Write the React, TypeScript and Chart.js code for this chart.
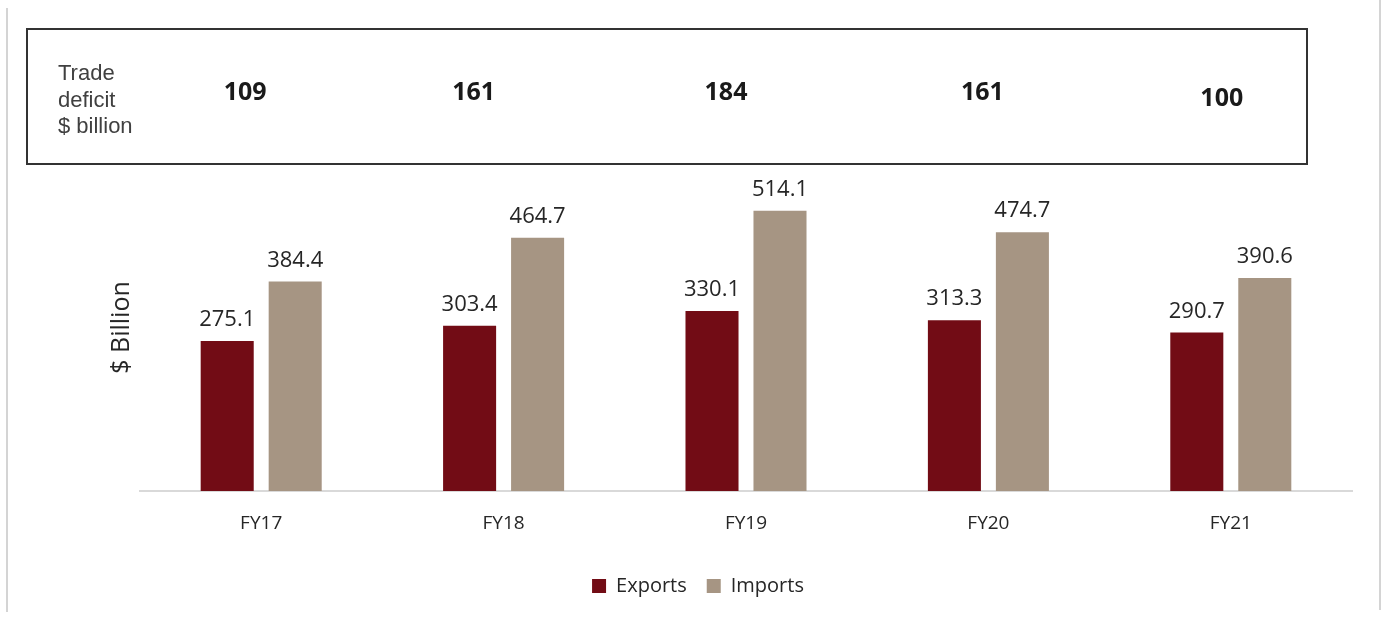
import React, { useEffect, useRef } from "react";
import { Chart, registerables } from "chart.js";

Chart.register(...registerables);

const categories = ["FY17", "FY18", "FY19", "FY20", "FY21"];
const exportsValues = [275.1, 303.4, 330.1, 313.3, 290.7];
const importsValues = [384.4, 464.7, 514.1, 474.7, 390.6];
const tradeDeficit = [109, 161, 184, 161, 100];
const deficitLabelLines = ["Trade", "deficit", "$ billion"];

const EXPORT_COLOR = "#720c15";
const IMPORT_COLOR = "#a69583";

// layout constants for the summary box (not data)
const DEFICIT_X_OFFSETS = [-16, -30, -20, -6, -9];
const DEFICIT_Y = [93, 93, 93, 93, 99];
const LEGEND_SHIFT = 22;

const overlayPlugin = {
  id: "overlay",
  afterLayout(chart: any) {
    if (chart.legend) {
      chart.legend.left += LEGEND_SHIFT;
      chart.legend.right += LEGEND_SHIFT;
    }
  },
  beforeDraw(chart: any) {
    const ctx = chart.ctx;
    ctx.save();
    ctx.fillStyle = "#ffffff";
    ctx.fillRect(0, 0, chart.width, chart.height);
    ctx.strokeStyle = "#d4d4d4";
    ctx.lineWidth = 2;
    ctx.beginPath();
    ctx.moveTo(7, 8);
    ctx.lineTo(7, 612);
    ctx.moveTo(1380, 0);
    ctx.lineTo(1380, 610);
    ctx.stroke();
    ctx.restore();
  },
  afterDatasetsDraw(chart: any) {
    const ctx = chart.ctx;
    ctx.save();
    ctx.font = "22px 'Open Sans'";
    ctx.fillStyle = "#262626";
    ctx.textAlign = "center";
    ctx.textBaseline = "alphabetic";
    chart.data.datasets.forEach((ds: any, di: number) => {
      const meta = chart.getDatasetMeta(di);
      meta.data.forEach((el: any, i: number) => {
        ctx.fillText(Number(ds.data[i]).toFixed(1), el.x, el.y - 15);
      });
    });
    ctx.restore();
  },
  afterDraw(chart: any) {
    const ctx = chart.ctx;
    const xScale = chart.scales.x;
    ctx.save();
    ctx.strokeStyle = "#333333";
    ctx.lineWidth = 2;
    ctx.strokeRect(27, 29, 1280, 135);
    ctx.fillStyle = "#404040";
    ctx.font = "22px 'Liberation Sans'";
    ctx.textAlign = "left";
    ctx.textBaseline = "middle";
    deficitLabelLines.forEach((t, i) => ctx.fillText(t, 58, 74 + i * 26.5));
    ctx.fillStyle = "#1a1a1a";
    ctx.font = "bold 25px 'Open Sans'";
    ctx.textAlign = "center";
    tradeDeficit.forEach((v, i) => {
      const x = xScale.getPixelForValue(i) + DEFICIT_X_OFFSETS[i];
      ctx.save();
      ctx.beginPath();
      ctx.rect(x - 40, 60, 80, 48);
      ctx.clip();
      ctx.fillText(String(v), x, DEFICIT_Y[i]);
      ctx.restore();
    });
    ctx.restore();
  },
};

export default function App() {
  const ref = useRef<HTMLCanvasElement>(null);
  useEffect(() => {
    if (!ref.current) return;
    Chart.defaults.font.family = "'Open Sans'";
    Chart.defaults.color = "#333333";
    const chart = new Chart(ref.current, {
      type: "bar",
      data: {
        labels: categories,
        datasets: [
          {
            label: "Exports",
            data: exportsValues,
            backgroundColor: EXPORT_COLOR,
            categoryPercentage: 0.561,
            barPercentage: 0.78,
          },
          {
            label: "Imports",
            data: importsValues,
            backgroundColor: IMPORT_COLOR,
            categoryPercentage: 0.561,
            barPercentage: 0.78,
          },
        ],
      },
      options: {
        animation: false,
        responsive: false,
        maintainAspectRatio: false,
        layout: { padding: { top: 164, right: 34, left: 0, bottom: 12 } },
        plugins: {
          legend: {
            position: "bottom",
            labels: {
              boxWidth: 14,
              boxHeight: 14,
              padding: 20,
              color: "#262626",
              font: { size: 20, family: "'Open Sans'" },
            },
          },
          tooltip: { enabled: false },
        },
        scales: {
          x: {
            grid: { display: false },
            border: { display: true, color: "#d9d9d9", width: 2 },
            ticks: { padding: 13, color: "#262626", font: { size: 19 } },
            afterFit: (s: any) => {
              s.height = 65;
            },
          },
          y: {
            min: 0,
            max: 600,
            grid: { display: false },
            border: { display: false },
            ticks: { display: false },
            title: {
              display: true,
              text: "$ Billion",
              color: "#262626",
              font: { size: 25 },
              padding: { top: 107, bottom: 0 },
            },
            afterFit: (s: any) => {
              s.width = 140;
            },
          },
        },
      },
      plugins: [overlayPlugin],
    });
    return () => chart.destroy();
  }, []);
  return (
    <div style={{ position: "absolute", left: 0, top: 0, width: 1386, height: 618 }}>
      <canvas ref={ref} width={1386} height={618} style={{ width: 1386, height: 618 }} />
    </div>
  );
}
